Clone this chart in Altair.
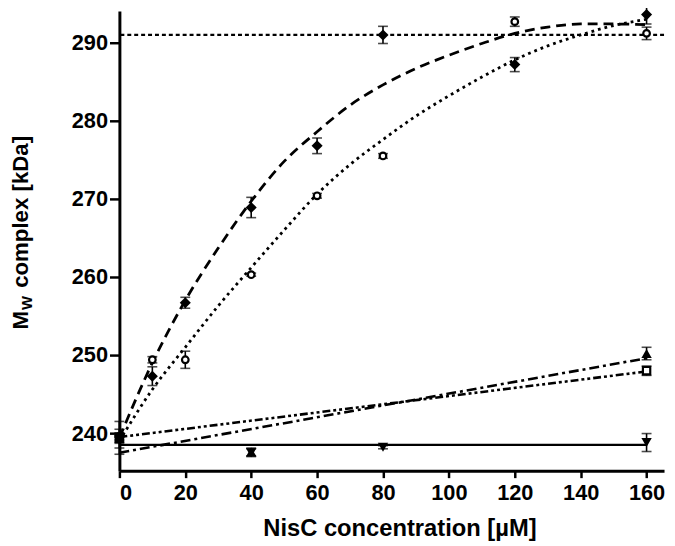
import altair as alt
import pandas as pd

# ---------------- data ----------------
# NisC concentration (µM) and complex molecular weight (kDa), with error
x_diamond = [0, 10, 20, 40, 60, 80, 120, 160]
y_diamond = [239.5, 247.3, 256.7, 268.9, 276.8, 291.0, 287.2, 293.6]
e_diamond = [0.5, 1.2, 0.7, 1.3, 1.0, 1.1, 0.9, 1.2]

x_circle = [0, 10, 20, 40, 60, 80, 120, 160]
y_circle = [239.6, 249.4, 249.4, 260.3, 270.4, 275.5, 292.7, 291.2]
e_circle = [0.4, 0.4, 1.1, 0.2, 0.3, 0.3, 0.6, 0.8]

x_tri = [0, 40, 160]
y_tri = [239.3, 237.6, 250.2]
e_tri = [1.2, 0.5, 0.8]

x_square = [0, 160]
y_square = [239.4, 248.0]
e_square = [2.1, 0.6]

x_tridown = [0, 40, 80, 160]
y_tridown = [239.2, 237.5, 238.2, 238.8]
e_tridown = [0.5, 0.5, 0.2, 1.15]

# fitted curves
fit_x = [0, 10, 20, 30, 40, 50, 60, 70, 80, 90, 100, 110, 120, 130, 140, 150, 160]
fit_diamond = [239.4, 249.0, 257.0, 263.7, 269.7, 274.8, 278.6, 282.0, 284.6, 286.7,
               288.4, 289.9, 291.2, 292.0, 292.4, 292.4, 292.3]
fit_circle = [239.0, 245.6, 251.0, 256.3, 261.2, 266.0, 270.6, 274.4, 277.6, 280.6,
              283.2, 285.6, 287.8, 289.6, 291.0, 292.2, 293.0]

line_x = [0, 160]
line_tri = [237.5, 249.6]
line_square = [239.5, 247.9]
line_tridown = [238.5, 238.5]

plateau = 291.0

x_ticks = [0, 20, 40, 60, 80, 100, 120, 140, 160]
y_ticks = [240, 250, 260, 270, 280, 290]

x_title = "NisC concentration [µM]"
y_title_main = "M"
y_title_sub = "W"
y_title_rest = "complex [kDa]"

# ---------------- chart ----------------
FONT = "Liberation Sans"
xs = alt.Scale(domain=[0, 165.3], nice=False, zero=False)
ys = alt.Scale(domain=[235.19, 294.05], nice=False, zero=False)

AXIS_STYLE = dict(grid=False, title=None, domainColor="black", domainWidth=3,
                  tickColor="black", tickWidth=2.5, labelFont=FONT, labelFontSize=22,
                  labelFontWeight="bold", labelColor="black")

X = lambda f: alt.X(f, type="quantitative", scale=xs,
                    axis=alt.Axis(values=x_ticks, tickSize=7, labelPadding=5, **AXIS_STYLE))
Y = lambda f: alt.Y(f, type="quantitative", scale=ys,
                    axis=alt.Axis(values=y_ticks, tickSize=10, labelPadding=2, **AXIS_STYLE))


def curve(xv, yv, dash, width=2.8, interp="monotone"):
    df = pd.DataFrame({"x": xv, "y": yv})
    kw = dict(color="black", strokeWidth=width, interpolate=interp)
    if dash:
        kw["strokeDash"] = dash
    return alt.Chart(df).mark_line(**kw).encode(x=X("x"), y=Y("y"))


def points(xv, yv, ev, shape, filled, size):
    df = pd.DataFrame({"x": xv, "y": yv, "e": ev})
    base = alt.Chart(df).transform_calculate(lo="datum.y - datum.e", hi="datum.y + datum.e")
    bar = base.mark_rule(color="black", strokeWidth=1.6).encode(
        x=X("x"), y=Y("lo"), y2="hi:Q")
    cap1 = base.mark_tick(color="black", orient="horizontal", size=10, thickness=1.6).encode(
        x=X("x"), y=Y("lo"))
    cap2 = base.mark_tick(color="black", orient="horizontal", size=10, thickness=1.6).encode(
        x=X("x"), y=Y("hi"))
    if filled:
        pt = base.mark_point(shape=shape, filled=True, color="black", size=size, opacity=1)
    else:
        pt = base.mark_point(shape=shape, filled=False, fill="white", fillOpacity=1,
                             stroke="black", strokeWidth=2.2, size=size, opacity=1)
    pt = pt.encode(x=X("x"), y=Y("y"))
    return [bar, cap1, cap2, pt]


one = pd.DataFrame({"a": [0]})
plateau_rule = alt.Chart(one).mark_rule(color="black", strokeWidth=2.2, strokeDash=[4, 3]).encode(
    y=alt.datum(plateau, scale=ys, axis=alt.Axis(values=y_ticks, tickSize=10, labelPadding=2,
                                                 **AXIS_STYLE)))

layers = [
    plateau_rule,
    curve(line_x, line_tridown, None, 2.4, "linear"),
    curve(line_x, line_tri, [10, 4, 3, 4], 2.6, "linear"),
    curve(line_x, line_square, [8, 3, 3, 3, 3, 3], 2.6, "linear"),
    curve(fit_x, fit_circle, [2.8, 4]),
    curve(fit_x, fit_diamond, [10, 6]),
]
layers += points(x_square, y_square, e_square, "square", False, 55)
layers += points(x_tri, y_tri, e_tri, "triangle-up", True, 110)
layers += points(x_tridown, y_tridown, e_tridown, "triangle-down", True, 110)
layers += points(x_circle, y_circle, e_circle, "circle", False, 45)
layers += points(x_diamond, y_diamond, e_diamond, "diamond", True, 125)

title_style = dict(font=FONT, fontWeight="bold", color="black")
layers += [
    alt.Chart(one).mark_text(text=x_title, fontSize=24, align="center",
                             baseline="alphabetic", **title_style).encode(
        x=alt.value(283.8), y=alt.value(531)),
    alt.Chart(one).mark_text(text=y_title_main, fontSize=22.5, align="left", angle=270,
                             baseline="alphabetic", **title_style).encode(
        x=alt.value(-92.5), y=alt.value(322)),
    alt.Chart(one).mark_text(text=y_title_sub, fontSize=15, align="left", angle=270,
                             baseline="alphabetic", **title_style).encode(
        x=alt.value(-88.5), y=alt.value(302.5)),
    alt.Chart(one).mark_text(text=y_title_rest, fontSize=22.5, align="left", angle=270,
                             baseline="alphabetic", **title_style).encode(
        x=alt.value(-92.5), y=alt.value(280)),
]

chart = alt.layer(*layers).properties(
    width=551, height=465,
    padding={"left": 112.7, "top": 0, "right": 3, "bottom": 72},
    autosize=alt.AutoSizeParams(type="none"),
    background="white",
).configure_view(stroke=None)

chart.save("out.html", embed_options={"renderer": "svg", "actions": False})
